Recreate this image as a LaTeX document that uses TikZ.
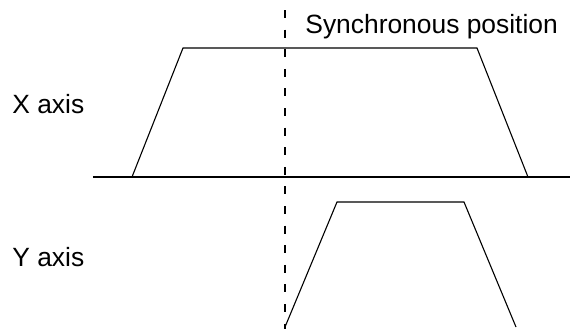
\documentclass[tikz,border=0pt]{standalone}
\usepackage{fontspec}
\setmainfont{Liberation Sans}
\begin{document}
\begin{tikzpicture}[x=0.5pt,y=-0.5pt,
  thin line/.style={line width=0.55pt, line join=miter},
  sync line/.style={line width=1.25pt, dash pattern=on 4pt off 5.8pt},
  label/.style={anchor=base west, inner sep=0pt, font=\fontsize{13.2}{16}\selectfont}]
\useasboundingbox (0,0) rectangle (570,329);
% labels
\node[label] (sync) at (305,33) {Synchronous position};
\node[label] (xlab) at (12,113) {X axis};
\node[label] (ylab) at (12,266) {Y axis};
% X axis profile
\coordinate (b0) at (93,177);
\coordinate (b1) at (570,177);
\coordinate (x1) at (132,177);
\coordinate (x2) at (183,48);
\coordinate (x3) at (477,48);
\coordinate (x4) at (528,177);
\draw[thin line] (b0) -- (b1);
\draw[line width=0.9pt] (170,177) -- (260,177);
\draw[thin line] (x1) -- (x2) -- (x3) -- (x4);
% Y axis profile
\coordinate (y1) at (285,327);
\coordinate (y2) at (337,202);
\coordinate (y3) at (464,202);
\coordinate (y4) at (516,327);
\draw[thin line] (y1) -- (y2) -- (y3) -- (y4);
% synchronous position line
\coordinate (s0) at (285,10);
\coordinate (s1) at (285,329);
\draw[sync line] (s0) -- (s1);
\end{tikzpicture}
\end{document}
